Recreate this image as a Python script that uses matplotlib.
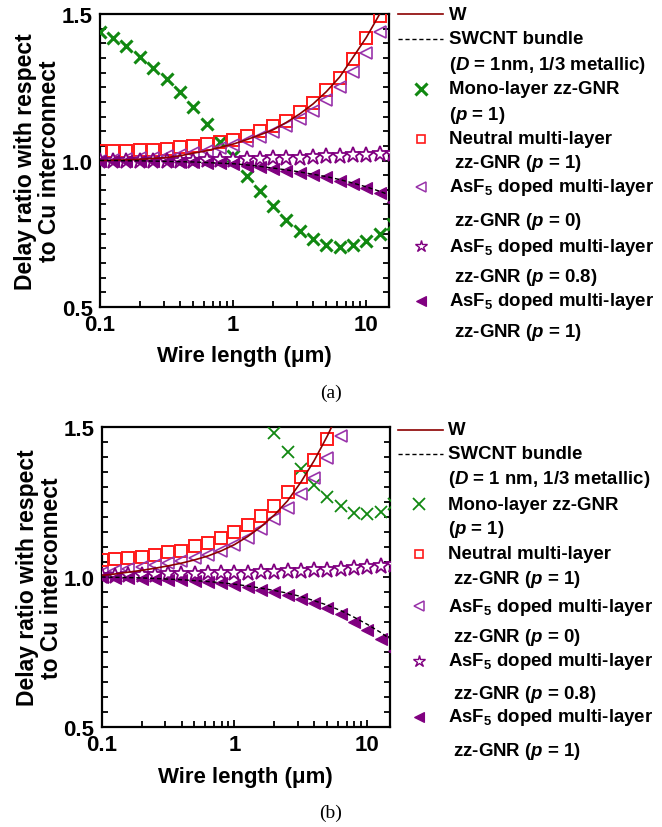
import matplotlib
matplotlib.use("Agg")
import matplotlib.pyplot as plt
from matplotlib.lines import Line2D
from matplotlib.ticker import MultipleLocator, FixedLocator, FixedFormatter, LogLocator, NullFormatter

plt.rcParams['font.family'] = ['Liberation Sans', 'DejaVu Sans']
plt.rcParams['font.weight'] = 'bold'
plt.rcParams['mathtext.fontset'] = 'custom'
plt.rcParams['mathtext.rm'] = 'Liberation Sans:bold'
plt.rcParams['mathtext.it'] = 'Liberation Sans:bold:italic'
plt.rcParams['mathtext.bf'] = 'Liberation Sans:bold'

# wire lengths in um, tenth-of-a-decade steps
wire_length = [0.1, 0.126, 0.158, 0.2, 0.251, 0.316, 0.398, 0.501, 0.631, 0.794,
               1.0, 1.26, 1.58, 2.0, 2.51, 3.16, 3.98, 5.01, 6.31, 7.94,
               10.0, 12.6, 15.8]

# ---- panel (a) ----
a_w = [1.000, 1.001, 1.002, 1.004, 1.007, 1.010, 1.016, 1.025, 1.033, 1.045, 1.056,
       1.071, 1.087, 1.105, 1.130, 1.159, 1.193, 1.235, 1.285, 1.352, 1.420, 1.500]
a_swcnt = [1.000, 1.000, 0.999, 0.999, 0.998, 0.997, 0.996, 0.995, 0.993, 0.991, 0.989,
           0.985, 0.980, 0.974, 0.968, 0.961, 0.953, 0.945, 0.935, 0.923, 0.910, 0.895, 0.878]
a_mono = [1.437, 1.417, 1.390, 1.352, 1.315, 1.278, 1.233, 1.184, 1.125, 1.064, 1.016,
          0.948, 0.897, 0.846, 0.798, 0.760, 0.732, 0.712, 0.704, 0.712, 0.726, 0.749, 0.783]
a_neutral = [1.032, 1.033, 1.034, 1.035, 1.037, 1.040, 1.045, 1.051, 1.056, 1.064, 1.071,
             1.085, 1.100, 1.117, 1.136, 1.165, 1.196, 1.242, 1.281, 1.346, 1.417, 1.494]
a_p0 = [1.000, 1.002, 1.004, 1.007, 1.010, 1.014, 1.020, 1.026, 1.033, 1.041, 1.053,
        1.065, 1.079, 1.096, 1.117, 1.142, 1.170, 1.208, 1.250, 1.303, 1.367, 1.437]
a_p08 = [0.998, 0.998, 0.998, 0.998, 0.999, 0.999, 1.000, 1.000, 1.001, 1.002, 1.003,
         1.004, 1.005, 1.007, 1.008, 1.010, 1.012, 1.014, 1.016, 1.018, 1.020, 1.021, 1.023]
a_p1 = [1.000, 1.000, 0.999, 0.999, 0.998, 0.997, 0.996, 0.994, 0.992, 0.990, 0.988,
        0.982, 0.977, 0.971, 0.965, 0.957, 0.951, 0.943, 0.931, 0.920, 0.906, 0.888, 0.857]

# ---- panel (b) ----
b_w = [1.005, 1.010, 1.016, 1.022, 1.029, 1.037, 1.046, 1.057, 1.070, 1.087, 1.108,
       1.135, 1.167, 1.207, 1.254, 1.316, 1.388, 1.471, 1.565]
b_swcnt = [1.000, 0.999, 0.998, 0.997, 0.995, 0.993, 0.991, 0.988, 0.985, 0.981, 0.976,
           0.970, 0.963, 0.955, 0.946, 0.935, 0.921, 0.906, 0.888, 0.866, 0.842, 0.815, 0.785]
b_mono = [1.480, 1.416, 1.360, 1.308, 1.266, 1.236, 1.213, 1.210, 1.216, 1.243]
b_neutral = [1.058, 1.060, 1.063, 1.068, 1.074, 1.082, 1.088, 1.102, 1.113, 1.130, 1.149,
             1.173, 1.202, 1.238, 1.282, 1.332, 1.391, 1.460]
b_p0 = [1.015, 1.021, 1.027, 1.033, 1.039, 1.046, 1.054, 1.063, 1.074, 1.088, 1.107,
        1.130, 1.160, 1.193, 1.229, 1.277, 1.330, 1.396, 1.471]
b_p08 = [1.004, 1.005, 1.006, 1.007, 1.008, 1.009, 1.010, 1.011, 1.012, 1.013, 1.014,
         1.015, 1.016, 1.018, 1.019, 1.021, 1.023, 1.025, 1.027, 1.030, 1.033, 1.037, 1.040]
b_p1 = [0.999, 0.998, 0.997, 0.995, 0.993, 0.991, 0.989, 0.986, 0.983, 0.979, 0.973,
        0.966, 0.958, 0.949, 0.940, 0.927, 0.913, 0.896, 0.877, 0.851, 0.824, 0.793, 0.754]

y_ticks = [0.5, 1.0, 1.5]
y_tick_labels = ["0.5", "1.0", "1.5"]
x_ticks = [0.1, 1, 10]
x_tick_labels = ["0.1", "1", "10"]

legend_a = ["W", "SWCNT bundle", "($D$ = 1nm, 1/3 metallic)", "Mono-layer zz-GNR", "($p$ = 1)",
            "Neutral multi-layer", " zz-GNR ($p$ = 1)", "AsF$_5$ doped multi-layer", " zz-GNR ($p$ = 0)",
            "AsF$_5$ doped multi-layer", " zz-GNR ($p$ = 0.8)", "AsF$_5$ doped multi-layer", " zz-GNR ($p$ = 1)"]
legend_b = ["W", "SWCNT bundle", "($D$ = 1 nm, 1/3 metallic)", "Mono-layer zz-GNR", "($p$ = 1)",
            "Neutral multi-layer", " zz-GNR ($p$ = 1)", "AsF$_5$ doped multi-layer", " zz-GNR ($p$ = 0)",
            "AsF$_5$ doped multi-layer", " zz-GNR ($p$ = 0.8)", "AsF$_5$ doped multi-layer", " zz-GNR ($p$ = 1)"]

C_W = '#8b0000'
C_GREEN = '#118811'
C_RED = '#ff1a1a'
C_OPEN = '#9933aa'
C_PURPLE = '#800080'

W, H = 662, 828
fig = plt.figure(figsize=(W / 100, H / 100), dpi=100)


def fx(px):
    return px / W


def fy(py):
    return 1 - py / H


def panel(rect, w, swcnt, mono, neutral, p0, p08, p1, mono_mew):
    ax = fig.add_axes(rect)
    n = len(wire_length)
    ax.plot(wire_length[n - len(mono):], mono, ls='none', marker='x', ms=9, mew=mono_mew,
            color=C_GREEN, zorder=3)
    ax.plot(wire_length[:len(neutral)], neutral, ls='none', marker='s', ms=8, mew=1.4,
            mfc='none', mec=C_RED, zorder=3)
    ax.plot(wire_length[:len(p0)], p0, ls='none', marker='<', ms=8.5, mew=1.2,
            mfc='none', mec=C_OPEN, zorder=3)
    ax.plot(wire_length[:len(p08)], p08, ls='none', marker='*', ms=12, mew=1.3,
            mfc='white', mec=C_PURPLE, zorder=3)
    ax.plot(wire_length[:len(p1)], p1, ls='none', marker='<', ms=8.5, mew=0.8,
            mfc=C_PURPLE, mec=C_PURPLE, zorder=3)
    ax.plot(wire_length[:len(w)], w, color=C_W, lw=1.2, zorder=4)
    ax.plot(wire_length[:len(swcnt)], swcnt, color='black', lw=1.0, ls=(0, (3, 2)), zorder=4)

    ax.set_xscale('log')
    ax.set_xlim(0.1, 14.8)
    ax.set_ylim(0.5, 1.5)
    ax.xaxis.set_major_locator(FixedLocator(x_ticks))
    ax.xaxis.set_major_formatter(FixedFormatter(x_tick_labels))
    ax.xaxis.set_minor_locator(LogLocator(base=10, subs=range(2, 10)))
    ax.xaxis.set_minor_formatter(NullFormatter())
    ax.yaxis.set_major_locator(FixedLocator(y_ticks))
    ax.yaxis.set_major_formatter(FixedFormatter(y_tick_labels))
    ax.yaxis.set_minor_locator(MultipleLocator(0.05))
    ax.tick_params(which='both', direction='in', top=False, right=True, width=1.3)
    ax.tick_params(which='major', length=5, labelsize=16, pad=5)
    ax.tick_params(which='minor', length=4)
    for s in ax.spines.values():
        s.set_linewidth(1.6)
    ax.set_xlabel("Wire length (μm)", fontsize=16, fontweight='bold')
    ax.xaxis.set_label_coords(0.5, -0.13)
    ax.set_ylabel("Delay ratio with respect\nto Cu interconnect", fontsize=16.5,
                  fontweight='bold', linespacing=1.05)
    ax.yaxis.set_label_coords(-0.135, 0.5)
    return ax


def legend(labels, ys, text_x, handle_x, mono_mew):
    # line handles
    fig.add_artist(Line2D([fx(398), fx(443)], [fy(ys[0]), fy(ys[0])], color=C_W, lw=1.2))
    fig.add_artist(Line2D([fx(398), fx(443)], [fy(ys[1]), fy(ys[1])], color='black', lw=1.0,
                          ls=(0, (3, 2))))
    marker_rows = [(3, dict(marker='x', ms=8, mew=mono_mew, color=C_GREEN)),
                   (5, dict(marker='s', ms=6, mew=1.2, mfc='none', mec=C_RED)),
                   (7, dict(marker='<', ms=7, mew=1.1, mfc='none', mec=C_OPEN)),
                   (9, dict(marker='*', ms=9, mew=1.0, mfc='white', mec=C_PURPLE)),
                   (11, dict(marker='<', ms=7, mew=0.8, mfc=C_PURPLE, mec=C_PURPLE))]
    for row, kw in marker_rows:
        fig.add_artist(Line2D([fx(handle_x)], [fy(ys[row])], ls='none', **kw))
    for lab, yy in zip(labels, ys):
        fig.text(fx(text_x), fy(yy), lab, fontsize=13.4, fontweight='bold', va='center', ha='left')


ax_a = panel([fx(100), fy(308), fx(389) - fx(100), fy(15) - fy(308)],
             a_w, a_swcnt, a_mono, a_neutral, a_p0, a_p08, a_p1, 2.2)
ax_b = panel([fx(101.5), fy(728), fx(390) - fx(101.5), fy(428) - fy(728)],
             b_w, b_swcnt, b_mono, b_neutral, b_p0, b_p08, b_p1, 1.3)

ys_a = [15, 40, 65, 90, 115, 140, 163, 188, 222, 247, 278, 302, 333]
ys_b = [431, 455, 480, 505, 530, 555, 580, 607, 638, 662, 695, 718, 752]
legend(legend_a, ys_a, 449, 421, 2.2)
legend(legend_b, ys_b, 448, 419, 1.3)

fig.text(fx(331), fy(393), "(a)", fontsize=14, fontweight='normal', ha='center', va='center',
         family='Liberation Serif')
fig.text(fx(331), fy(813), "(b)", fontsize=14, fontweight='normal', ha='center', va='center',
         family='Liberation Serif')

fig.savefig("out.png", dpi=100)
